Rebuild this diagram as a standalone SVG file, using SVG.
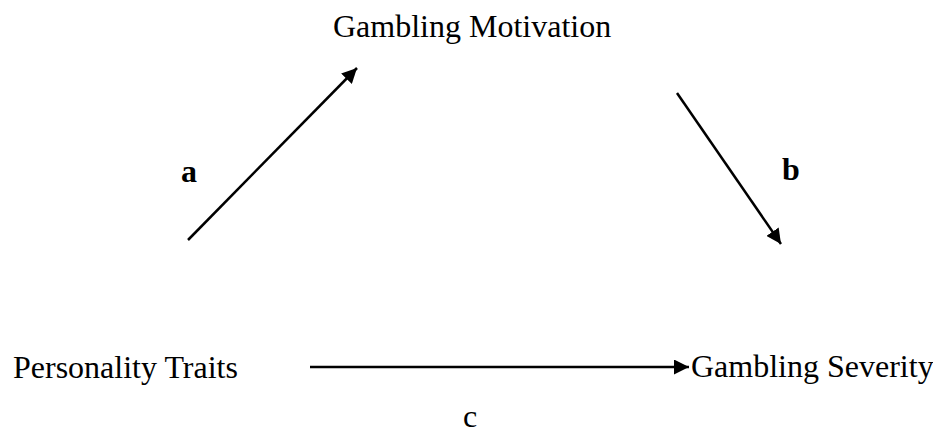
<svg xmlns="http://www.w3.org/2000/svg" width="933" height="435" viewBox="0 0 933 435">
<style>
text{font-family:"Liberation Serif","Times New Roman",serif;font-size:32px;fill:#000}
.b{font-weight:bold}
.c{stroke:#000;stroke-width:2.5;fill:none}
</style>
<defs>
<marker id="ah" viewBox="0 0 10 10" refX="10" refY="5" markerWidth="6" markerHeight="6" markerUnits="strokeWidth" orient="auto">
<path d="M0,0 L10,5 L0,10 z" fill="#000"/>
</marker>
</defs>
<rect width="933" height="435" fill="#fff"/>
<g id="motivation"><text x="333" y="37">Gambling Motivation</text></g>
<g id="personality"><text x="13" y="378">Personality Traits</text></g>
<g id="severity"><text x="691" y="377">Gambling Severity</text></g>
<g id="labels">
<text class="b" x="181" y="182">a</text>
<text class="b" x="782" y="180">b</text>
<text x="463" y="427">c</text>
</g>
<g id="connectors">
<line class="c" x1="188" y1="240" x2="357" y2="68" marker-end="url(#ah)"/>
<line class="c" x1="677" y1="93" x2="781" y2="244" marker-end="url(#ah)"/>
<line class="c" x1="310" y1="367" x2="689" y2="367" marker-end="url(#ah)"/>
</g>
</svg>
